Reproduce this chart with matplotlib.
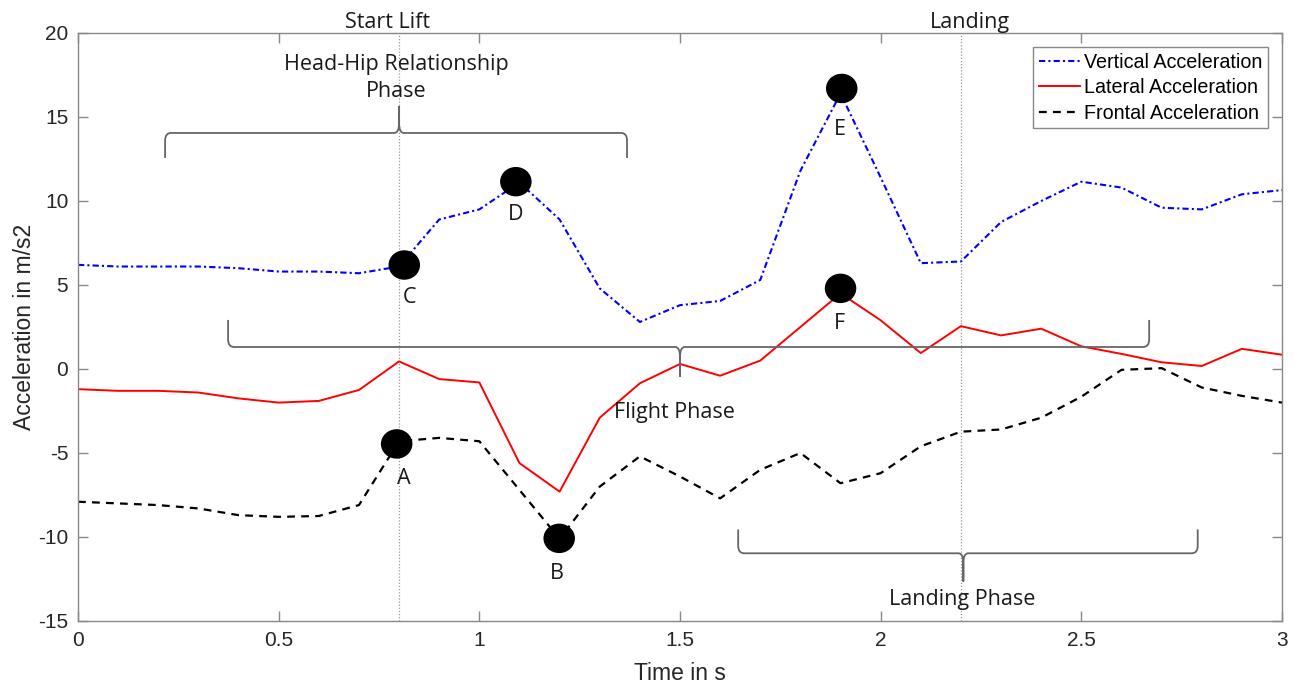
import matplotlib
matplotlib.use("Agg")
import matplotlib.pyplot as plt
from matplotlib.path import Path
from matplotlib.patches import PathPatch, Ellipse

plt.rcParams["axes.unicode_minus"] = False

# sample times (s)
time = [0.0, 0.1, 0.2, 0.3, 0.4, 0.5, 0.6, 0.7, 0.8, 0.9, 1.0,
        1.1, 1.2, 1.3, 1.4, 1.5, 1.6, 1.7, 1.8, 1.9, 2.0,
        2.1, 2.2, 2.3, 2.4, 2.5, 2.6, 2.7, 2.8, 2.9, 3.0]

vertical = [6.2, 6.1, 6.1, 6.1, 6.0, 5.8, 5.8, 5.7, 6.1, 8.9, 9.5,
            11.1, 8.9, 4.8, 2.8, 3.8, 4.05, 5.3, 11.8, 16.4, 11.4,
            6.3, 6.4, 8.75, 10.0, 11.15, 10.8, 9.6, 9.5, 10.4, 10.65]

lateral = [-1.2, -1.3, -1.3, -1.4, -1.75, -2.0, -1.9, -1.25, 0.45, -0.6, -0.8,
           -5.6, -7.3, -2.9, -0.85, 0.3, -0.4, 0.5, 2.5, 4.5, 2.9,
           0.95, 2.55, 2.0, 2.4, 1.35, 0.9, 0.4, 0.18, 1.2, 0.85]

frontal = [-7.9, -8.0, -8.1, -8.3, -8.7, -8.8, -8.75, -8.1, -4.3, -4.1, -4.3,
           -7.2, -10.1, -7.0, -5.2, -6.4, -7.7, -6.0, -5.0, -6.8, -6.2,
           -4.6, -3.73, -3.6, -2.9, -1.65, -0.05, 0.05, -1.1, -1.6, -2.0]

# key points A-F
pt_names = ["A", "B", "C", "D", "E", "F"]
pt_x = [0.794, 1.199, 0.813, 1.091, 1.903, 1.900]
pt_y = [-4.46, -10.08, 6.19, 11.15, 16.7, 4.8]
lab_x = [0.811, 1.194, 0.826, 1.091, 1.899, 1.897]
lab_y = [-6.5, -12.16, 4.23, 9.17, 14.23, 2.72]

# event lines
events = ["Start Lift", "Landing"]
event_t = [0.8, 2.2]
event_lab_x = [0.770, 2.223]

# braces: (x1, x2, xmid, y line, y ends, y tip)
braces = [(0.217, 1.368, 0.800, 14.05, 12.56, 15.65),
          (0.374, 2.669, 1.500, 1.31, 2.92, -0.46),
          (1.645, 2.790, 2.206, -10.97, -9.55, -12.65)]
brace_text = ["Head-Hip Relationship\nPhase", "Flight Phase", "Landing Phase"]
brace_text_xy = [(0.793, 17.33), (1.487, -2.6), (2.204, -13.7)]

ann_font = "Open Sans"
ax_font = "Liberation Sans"
ann_size = 15.5

fig = plt.figure(figsize=(12.99, 6.84), dpi=100)
ax = fig.add_axes([78 / 1299, 1 - 621 / 684, 1204 / 1299, 588 / 684])

ax.plot(time, vertical, color="#0000ff", lw=1.5, dashes=(3, 1.5, 1, 1.5),
        label="Vertical Acceleration")
ax.plot(time, lateral, color="#ff0000", lw=1.4, label="Lateral Acceleration")
ax.plot(time, frontal, color="#000000", lw=1.6, dashes=(3.5, 2.8),
        label="Frontal Acceleration")

for t in event_t:
    ax.axvline(t, color="#999999", lw=0.9, ls=(0, (1, 1.5)), zorder=1)
for name, x in zip(events, event_lab_x):
    ax.text(x, 20.65, name, ha="center", va="center", fontsize=ann_size,
            family=ann_font, color="#1a1a1a", clip_on=False)

for x, y in zip(pt_x, pt_y):
    ax.add_patch(Ellipse((x, y), 0.075, 1.67, color="black", zorder=5))
for name, x, y in zip(pt_names, lab_x, lab_y):
    ax.text(x, y, name, ha="center", va="center", fontsize=ann_size,
            family=ann_font, color="#1a1a1a", zorder=6)


def brace(x1, x2, xm, y0, ye, yt):
    d = 1 if yt > y0 else -1
    rx, ry = 0.015, 0.45
    mx, my = 0.012, 0.6
    verts = [(x1, ye), (x1, y0 - d * ry), (x1, y0), (x1 + rx, y0),
             (xm - mx, y0), (xm, y0), (xm, y0 + d * my), (xm, yt),
             (xm, y0 + d * my), (xm, y0), (xm + mx, y0),
             (x2 - rx, y0), (x2, y0), (x2, y0 - d * ry), (x2, ye)]
    codes = [Path.MOVETO, Path.LINETO, Path.CURVE3, Path.CURVE3,
             Path.LINETO, Path.CURVE3, Path.CURVE3, Path.LINETO,
             Path.LINETO, Path.CURVE3, Path.CURVE3,
             Path.LINETO, Path.CURVE3, Path.CURVE3, Path.LINETO]
    ax.add_patch(PathPatch(Path(verts, codes), fill=False,
                           edgecolor="#666666", lw=1.3, zorder=2))


for b in braces:
    brace(*b)
for txt, (x, y) in zip(brace_text, brace_text_xy):
    ax.text(x, y, txt, ha="center", va="center", fontsize=ann_size,
            family=ann_font, color="#1a1a1a", linespacing=1.4)

ax.set_xlim(0, 3)
ax.set_ylim(-15, 20)
ax.set_xticks([0, 0.5, 1, 1.5, 2, 2.5, 3])
ax.set_xticklabels(["0", "0.5", "1", "1.5", "2", "2.5", "3"])
ax.set_yticks([-15, -10, -5, 0, 5, 10, 15, 20])
ax.tick_params(direction="in", length=7, width=1, color="#888888",
               labelsize=15, labelcolor="#262626", top=True, right=True, pad=7)
for lab in ax.get_xticklabels() + ax.get_yticklabels():
    lab.set_family(ax_font)
for s in ax.spines.values():
    s.set_color("#888888")
    s.set_linewidth(1.0)

ax.set_xlabel("Time in s", fontsize=16.5, family=ax_font, color="#262626")
ax.set_ylabel("Acceleration in m/s2", fontsize=16.5, family=ax_font, color="#262626")
ax.xaxis.set_label_coords(0.5, -0.070)
ax.yaxis.set_label_coords(-0.0345, 0.5)

leg = ax.legend(loc="upper right", bbox_to_anchor=(1268 / 1299, 1 - 47 / 684),
                bbox_transform=fig.transFigure, borderaxespad=0,
                prop={"family": ax_font, "size": 14.2}, handlelength=2.1,
                handletextpad=0.2, labelspacing=0.33, borderpad=0.28,
                fancybox=False, framealpha=1)
leg.get_frame().set_edgecolor("#888888")
leg.get_frame().set_linewidth(1.0)

fig.savefig("out.png", dpi=100)
